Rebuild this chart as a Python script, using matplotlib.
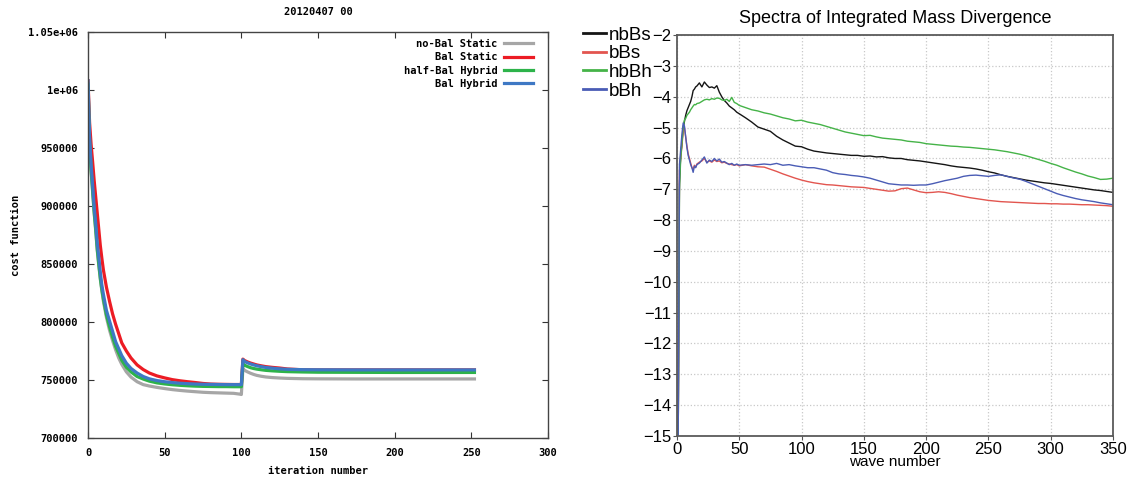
import numpy as np
import matplotlib
matplotlib.use('Agg')
import matplotlib.pyplot as plt
from matplotlib.ticker import FixedLocator, FixedFormatter

# ---- left panel: cost function vs iteration ----
iters = [0, 1, 2, 3, 4, 5, 6, 7, 8, 9, 10, 12, 14, 16, 18, 20, 22, 25, 28, 32, 36,
         40, 45, 50, 55, 60, 65, 70, 75, 80, 85, 90, 95, 99, 100, 101, 102, 104, 106,
         108, 110, 113, 116, 120, 125, 130, 140, 150, 175, 200, 225, 252]

cost_nobal_static = [1003000, 953000, 930000, 912000, 894000, 879000, 862000, 849000,
                     837000, 827000, 818000, 804000, 793000, 784000, 776000, 769000,
                     763500, 757000, 752500, 748500, 746000, 744800, 743600, 742600,
                     741700, 741000, 740400, 739900, 739400, 739100, 738900, 738700,
                     738500, 737800, 737500, 760000, 758400, 757000, 755800, 754800,
                     754000, 753200, 752600, 752100, 751700, 751400, 751100, 751000,
                     750900, 750900, 750900, 750900]
cost_bal_static = [1008000, 972000, 953000, 938000, 922000, 908000, 894000, 880000,
                   866000, 855000, 845000, 830000, 818000, 807000, 798000, 790000,
                   782000, 775000, 769000, 763000, 759000, 756000, 753500, 751800,
                   750300, 749300, 748500, 747800, 747000, 746500, 746300, 746200,
                   746100, 746100, 746100, 768000, 766800, 765600, 764600, 763800,
                   763000, 762200, 761500, 760900, 760300, 759500, 758800, 758700,
                   758700, 758700, 758700, 758700]
cost_halfbal_hybrid = [1005000, 955000, 931000, 913000, 895000, 880000, 863000, 850000,
                       838000, 828000, 820000, 806000, 796000, 787000, 779000, 773000,
                       767000, 761000, 757000, 753000, 750800, 749000, 747500, 746600,
                       745900, 745400, 745000, 744700, 744500, 744400, 744300, 744300,
                       744200, 744200, 744200, 764000, 762800, 761600, 760600, 759900,
                       759400, 758800, 758300, 757900, 757500, 757200, 756900, 756700,
                       756600, 756500, 756500, 756500]
cost_bal_hybrid = [1008000, 960000, 936000, 918000, 899000, 885000, 868000, 856000,
                   843000, 832000, 824000, 810000, 801000, 792000, 783000, 777000,
                   771000, 764500, 760000, 756000, 753000, 751000, 749500, 748500,
                   747800, 747200, 746800, 746500, 746300, 746200, 746100, 746000,
                   746000, 746000, 746000, 767500, 766000, 764800, 763800, 763000,
                   762300, 761500, 760800, 760200, 759600, 759200, 758900, 758800,
                   758700, 758700, 758700, 758700]

left_labels = ['no-Bal Static', 'Bal Static', 'half-Bal Hybrid', 'Bal Hybrid']
left_colors = ['#a6a6a6', '#ec1c24', '#2db34a', '#3e78c4']

# ---- right panel: spectra ----
wave = [1, 2, 3, 4, 5, 6, 7, 8, 9, 10, 11, 12, 13, 14, 15, 16,
        18, 20, 22, 24, 26, 28, 30, 32, 34, 36, 38, 40, 42, 44, 46, 48, 50,
        55, 60, 65, 70, 75, 80, 85, 90, 95, 100, 105, 110, 115, 120, 125, 130,
        135, 140, 145, 150, 155, 160, 165, 170, 175, 180, 185, 190, 195, 200,
        205, 210, 215, 220, 225, 230, 235, 240, 245, 250, 255, 260, 265, 270,
        275, 280, 285, 290, 295, 300, 305, 310, 315, 320, 325, 330, 335, 340,
        345, 350]

nbBs = [-15, -6.8, -5.9, -5.5, -5.0, -4.8, -4.6, -4.45, -4.35, -4.25, -4.15, -4.0,
        -3.8, -3.75, -3.68, -3.65,
        -3.55, -3.68, -3.52, -3.62, -3.7, -3.68, -3.72, -3.64, -3.85, -4.0, -4.12,
        -4.2, -4.3, -4.36, -4.42, -4.5, -4.55,
        -4.68, -4.82, -4.98, -5.05, -5.12, -5.28, -5.4, -5.5, -5.6, -5.62, -5.7,
        -5.76, -5.79, -5.82, -5.84, -5.86, -5.88, -5.9, -5.9, -5.93, -5.92, -5.95,
        -5.94, -5.98, -6.0, -6.0, -6.04, -6.06, -6.08, -6.11, -6.14, -6.17, -6.2,
        -6.24, -6.27, -6.29, -6.31, -6.34, -6.38, -6.43, -6.47, -6.53, -6.58, -6.62,
        -6.66, -6.7, -6.73, -6.76, -6.79, -6.81, -6.84, -6.87, -6.9, -6.93, -6.96,
        -6.99, -7.02, -7.04, -7.07, -7.1]
bBs = [-15, -6.4, -6.0, -5.6, -5.1, -5.0, -5.3, -5.6, -5.85, -6.0, -6.15, -6.3,
       -6.35, -6.22, -6.28, -6.18,
       -6.12, -6.08, -6.0, -6.12, -6.08, -6.12, -6.05, -6.1, -6.08, -6.14, -6.12,
       -6.16, -6.18, -6.2, -6.22, -6.2, -6.24,
       -6.2, -6.24, -6.27, -6.28, -6.35, -6.42, -6.5, -6.57, -6.64, -6.7, -6.75,
       -6.79, -6.82, -6.85, -6.86, -6.88, -6.9, -6.92, -6.93, -6.94, -6.97, -7.0,
       -7.03, -7.06, -7.05, -6.98, -6.96, -7.02, -7.08, -7.11, -7.1, -7.08, -7.1,
       -7.14, -7.19, -7.23, -7.27, -7.3, -7.33, -7.36, -7.38, -7.4, -7.41, -7.42,
       -7.43, -7.44, -7.45, -7.46, -7.46, -7.47, -7.47, -7.48, -7.48, -7.49, -7.5,
       -7.5, -7.51, -7.52, -7.53, -7.55]
hbBh = [-15, -7.0, -6.0, -5.5, -5.0, -4.75, -4.7, -4.6, -4.55, -4.5, -4.42, -4.36,
        -4.3, -4.25, -4.26, -4.22,
        -4.2, -4.15, -4.1, -4.08, -4.1, -4.06, -4.08, -4.04, -4.05, -4.1, -4.12,
        -4.08, -4.15, -4.02, -4.18, -4.22, -4.28,
        -4.35, -4.42, -4.46, -4.52, -4.56, -4.62, -4.68, -4.72, -4.78, -4.76, -4.82,
        -4.86, -4.9, -4.96, -5.02, -5.08, -5.14, -5.18, -5.22, -5.26, -5.25, -5.3,
        -5.34, -5.36, -5.38, -5.4, -5.44, -5.46, -5.48, -5.52, -5.54, -5.56, -5.58,
        -5.6, -5.61, -5.63, -5.64, -5.66, -5.68, -5.7, -5.72, -5.75, -5.78, -5.82,
        -5.86, -5.91, -5.97, -6.03, -6.09, -6.16, -6.22, -6.3, -6.37, -6.44, -6.5,
        -6.57, -6.62, -6.68, -6.67, -6.64]
bBh = [-15, -6.2, -5.7, -5.2, -4.85, -4.95, -5.3, -5.65, -5.9, -6.05, -6.2, -6.3,
       -6.45, -6.25, -6.3, -6.2,
       -6.15, -6.05, -5.95, -6.15, -6.05, -6.1, -6.0, -6.08, -6.02, -6.12, -6.1,
       -6.15, -6.2, -6.16, -6.22, -6.18, -6.22,
       -6.2, -6.22, -6.2, -6.18, -6.2, -6.16, -6.22, -6.2, -6.24, -6.27, -6.3,
       -6.3, -6.34, -6.38, -6.46, -6.5, -6.52, -6.55, -6.57, -6.6, -6.64, -6.7,
       -6.76, -6.82, -6.84, -6.86, -6.86, -6.87, -6.86, -6.86, -6.82, -6.77, -6.72,
       -6.68, -6.64, -6.58, -6.55, -6.54, -6.56, -6.58, -6.55, -6.53, -6.58, -6.63,
       -6.67, -6.74, -6.82, -6.9, -6.98, -7.06, -7.14, -7.2, -7.25, -7.3, -7.34,
       -7.37, -7.4, -7.44, -7.47, -7.5]

right_labels = ['nbBs', 'bBs', 'hbBh', 'bBh']
right_colors = ['#151515', '#e2554f', '#45b348', '#4a5cb5']

fig = plt.figure(figsize=(11.33, 4.83), dpi=100)

# left: gnuplot look
mono = {'family': 'DejaVu Sans Mono', 'weight': 'bold', 'size': 7.5}
ax1 = fig.add_axes([0.0777, 0.0932, 0.406, 0.8405])
for ys, lab, col in zip([cost_nobal_static, cost_bal_static, cost_halfbal_hybrid, cost_bal_hybrid],
                        left_labels, left_colors):
    ax1.plot(iters, ys, color=col, lw=2.3, label=lab)
ax1.set_xlim(0, 300)
ax1.set_ylim(700000, 1050000)
ax1.set_xticks(np.arange(0, 301, 50))
yt = np.arange(700000, 1050001, 50000)
ax1.yaxis.set_major_locator(FixedLocator(yt))
ax1.yaxis.set_major_formatter(FixedFormatter(['700000', '750000', '800000', '850000',
                                              '900000', '950000', '1e+06', '1.05e+06']))
ax1.tick_params(direction='in', top=True, right=True, length=4, width=0.8,
                color='#333333', pad=7)
for lab in ax1.get_xticklabels() + ax1.get_yticklabels():
    lab.set_fontproperties(mono)
for sp in ax1.spines.values():
    sp.set_color('#444444')
    sp.set_linewidth(1.0)
ax1.set_xlabel('iteration number', fontdict=mono, labelpad=6)
ax1.set_ylabel('cost function', fontdict=mono, labelpad=5)
ax1.set_title('20120407 00', fontdict=mono, pad=12)
ax1.legend(loc='upper right', bbox_to_anchor=(0.976, 0.993), frameon=False,
           markerfirst=False, prop=mono, handlelength=2.8, handletextpad=0.6,
           labelspacing=0.32, borderaxespad=0.0)

# right: GrADS look
grads = 'Liberation Sans'
ax2 = fig.add_axes([0.5975, 0.0973, 0.3848, 0.830])
for ys, lab, col in zip([nbBs, bBs, hbBh, bBh], right_labels, right_colors):
    ax2.plot(wave, ys, color=col, lw=1.0, label=lab)
ax2.set_xlim(0, 350)
ax2.set_ylim(-15, -2)
ax2.set_xticks(np.arange(0, 351, 50))
ax2.set_yticks(np.arange(-15, -1, 1))
ax2.grid(True, ls=':', color='#c8c8c8', lw=0.9)
ax2.tick_params(direction='out', length=3, width=0.8, color='#555555',
                labelsize=12, pad=1, top=False, right=False)
for lab in ax2.get_xticklabels() + ax2.get_yticklabels():
    lab.set_family(grads)
for sp in ax2.spines.values():
    sp.set_color('#5a5a5a')
    sp.set_linewidth(1.3)
ax2.set_xlabel('wave number', family=grads, fontsize=11, labelpad=-1)
ax2.set_title('Spectra of Integrated Mass Divergence', family=grads,
              fontsize=13, pad=9)
leg2 = ax2.legend(loc='upper left', bbox_to_anchor=(-0.232, 1.04), frameon=False,
                  prop={'family': grads, 'size': 13.5}, handlelength=1.2,
                  handletextpad=0.15, labelspacing=0.08, borderaxespad=0.0)
for h in leg2.get_lines():
    h.set_linewidth(2.0)

fig.savefig('out.png', dpi=100)
